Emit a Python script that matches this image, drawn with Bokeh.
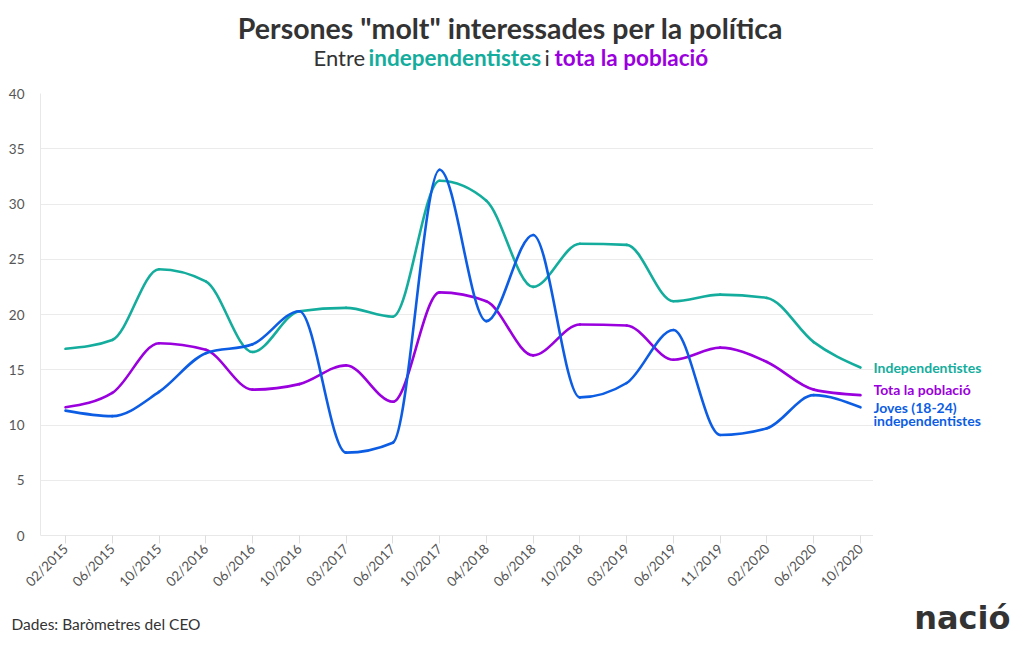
from math import pi
from bokeh.plotting import figure
from bokeh.layouts import column, row
from bokeh.models import FixedTicker, Range1d
from bokeh.core.properties import value
from bokeh.embed import file_html
from bokeh.resources import INLINE

# ---------------- data ----------------
dates = ["02/2015", "06/2015", "10/2015", "02/2016", "06/2016", "10/2016",
         "03/2017", "06/2017", "10/2017", "04/2018", "06/2018", "10/2018",
         "03/2019", "06/2019", "11/2019", "02/2020", "06/2020", "10/2020"]
independentistes = [16.9, 17.7, 24.1, 23.0, 16.6, 20.3, 20.6, 19.8, 32.1,
                    30.3, 22.5, 26.4, 26.3, 21.2, 21.8, 21.5, 17.5, 15.2]
poblacio = [11.6, 12.9, 17.4, 16.8, 13.2, 13.7, 15.4, 12.1, 22.0,
            21.2, 16.3, 19.1, 19.0, 15.9, 17.0, 15.7, 13.2, 12.7]
joves = [11.3, 10.8, 13.0, 16.5, 17.3, 20.3, 7.5, 8.4, 33.1,
         19.4, 27.2, 12.5, 13.8, 18.6, 9.1, 9.7, 12.7, 11.6]
series_names = ["Independentistes", "Tota la població",
                "Joves (18-24)\nindependentistes"]
y_ticks = [0, 5, 10, 15, 20, 25, 30, 35, 40]

TEAL = "#14ad9d"
PURPLE = "#9a00de"
BLUE = "#0c5de3"
DARK = "#333333"
FONT = "Lato"

TOTAL_W, TOTAL_H = 1015, 645
TOP_H = 83
MAIN_W = 873
MAIN_H = 515
BOT_H = TOTAL_H - TOP_H - MAIN_H


def monotone_x(xs, ys):
    """Cubic bezier segments of d3.curveMonotoneX through the points."""
    n = len(xs)

    def sgn(v):
        return -1.0 if v < 0 else 1.0

    t = [0.0] * n
    for i in range(1, n - 1):
        h0 = xs[i] - xs[i - 1]
        h1 = xs[i + 1] - xs[i]
        s0 = (ys[i] - ys[i - 1]) / h0
        s1 = (ys[i + 1] - ys[i]) / h1
        p_ = (s0 * h1 + s1 * h0) / (h0 + h1)
        t[i] = (sgn(s0) + sgn(s1)) * min(abs(s0), abs(s1), 0.5 * abs(p_))
    h = xs[1] - xs[0]
    t[0] = (3 * (ys[1] - ys[0]) / h - t[1]) / 2
    h = xs[-1] - xs[-2]
    t[-1] = (3 * (ys[-1] - ys[-2]) / h - t[-2]) / 2
    seg = dict(x0=[], y0=[], x1=[], y1=[], cx0=[], cy0=[], cx1=[], cy1=[])
    for i in range(n - 1):
        dx = (xs[i + 1] - xs[i]) / 3
        seg["x0"].append(xs[i]); seg["y0"].append(ys[i])
        seg["x1"].append(xs[i + 1]); seg["y1"].append(ys[i + 1])
        seg["cx0"].append(xs[i] + dx); seg["cy0"].append(ys[i] + dx * t[i])
        seg["cx1"].append(xs[i + 1] - dx); seg["cy1"].append(ys[i + 1] - dx * t[i + 1])
    return seg


def blank(width, height):
    f = figure(width=width, height=height,
               x_range=Range1d(0, width), y_range=Range1d(height, 0),
               x_axis_type=None, y_axis_type=None,
               output_backend="svg", toolbar_location=None,
               min_border=0)
    f.outline_line_color = None
    f.xgrid.visible = False
    f.ygrid.visible = False
    return f


def txt(f, x, y, s, size, color=DARK, style="normal", align="left",
        baseline="middle", font=FONT):
    f.text(x=[x], y=[y], text=[s], text_font=value(font),
           text_font_size=size, text_font_style=style, text_color=color,
           text_align=align, text_baseline=baseline)


# ---------------- header ----------------
top = blank(TOTAL_W, TOP_H)
txt(top, 510, 27, 'Persones "molt" interessades per la política', "28.5px",
    style="bold", align="center")
txt(top, 313, 57, "Entre", "22px")
txt(top, 368, 57, "independentistes", "22.5px", color=TEAL, style="bold")
txt(top, 544, 57, "i", "22px")
txt(top, 554, 57, "tota la població", "22.5px", color=PURPLE, style="bold")

# ---------------- main chart ----------------
xs = list(range(len(dates)))
px_per = 795 / 17.0
p = figure(width=MAIN_W, height=MAIN_H,
           x_range=Range1d(-25 / px_per, len(dates) - 1 + 13 / px_per),
           y_range=Range1d(0, 40),
           output_backend="svg", toolbar_location=None,
           min_border_left=40, min_border_right=0,
           min_border_top=10, min_border_bottom=62)
p.outline_line_color = None
p.xgrid.visible = False
p.ygrid.grid_line_color = "#ebebeb"
p.ygrid.grid_line_width = 1

p.yaxis.ticker = FixedTicker(ticks=y_ticks)
p.yaxis.axis_line_color = "#e8e8e8"
p.yaxis.major_tick_line_color = None
p.yaxis.minor_tick_line_color = None
p.yaxis.major_label_standoff = 10
p.yaxis.major_label_text_font = FONT
p.yaxis.major_label_text_font_size = "13.5px"
p.yaxis.major_label_text_color = "#555555"

p.xaxis.ticker = FixedTicker(ticks=xs)
p.xaxis.major_label_overrides = {i: d for i, d in enumerate(dates)}
p.xaxis.major_label_orientation = pi / 4
p.xaxis.axis_line_color = "#e8e8e8"
p.xaxis.major_tick_line_color = "#dddddd"
p.xaxis.major_tick_in = 0
p.xaxis.major_tick_out = 8
p.xaxis.minor_tick_line_color = None
p.xaxis.major_label_standoff = 3
p.xaxis.major_label_text_font = FONT
p.xaxis.major_label_text_font_size = "13.5px"
p.xaxis.major_label_text_color = "#555555"

for ys, col in [(independentistes, TEAL), (poblacio, PURPLE), (joves, BLUE)]:
    seg = monotone_x(xs, ys)
    p.bezier(x0="x0", y0="y0", x1="x1", y1="y1", cx0="cx0", cy0="cy0",
             cx1="cx1", cy1="cy1", source=seg, line_color=col,
             line_width=2.6, line_cap="round")

# ---------------- end-of-line labels ----------------
right = figure(width=TOTAL_W - MAIN_W, height=MAIN_H,
               x_range=Range1d(0, TOTAL_W - MAIN_W), y_range=p.y_range,
               x_axis_type=None, y_axis_type=None,
               output_backend="svg", toolbar_location=None,
               min_border_left=0, min_border_right=0,
               min_border_top=10, min_border_bottom=62)
right.outline_line_color = None
right.xgrid.visible = False
right.ygrid.visible = False
ends = [(series_names[0], independentistes[-1], TEAL, 0),
        (series_names[1], poblacio[-1], PURPLE, -6),
        (series_names[2].split("\n")[0], joves[-1], BLUE, 0),
        (series_names[2].split("\n")[1], joves[-1], BLUE, 13)]
for s, yv, col, yoff in ends:
    right.text(x=[0], y=[yv], text=[s], y_offset=yoff,
               text_font=value(FONT), text_font_size="14px",
               text_font_style="bold", text_color=col,
               text_align="left", text_baseline="middle")

# ---------------- footer ----------------
bottom = blank(TOTAL_W, BOT_H)
txt(bottom, 11, 25, "Dades: Baròmetres del CEO", "15.5px")
txt(bottom, 1010, 19, "nació", "32px", color=DARK, style="bold",
    align="right", baseline="middle", font="DejaVu Sans")

layout = column(top, row(p, right, spacing=0), bottom, spacing=0)
open("out.html", "w").write(file_html(layout, INLINE))
